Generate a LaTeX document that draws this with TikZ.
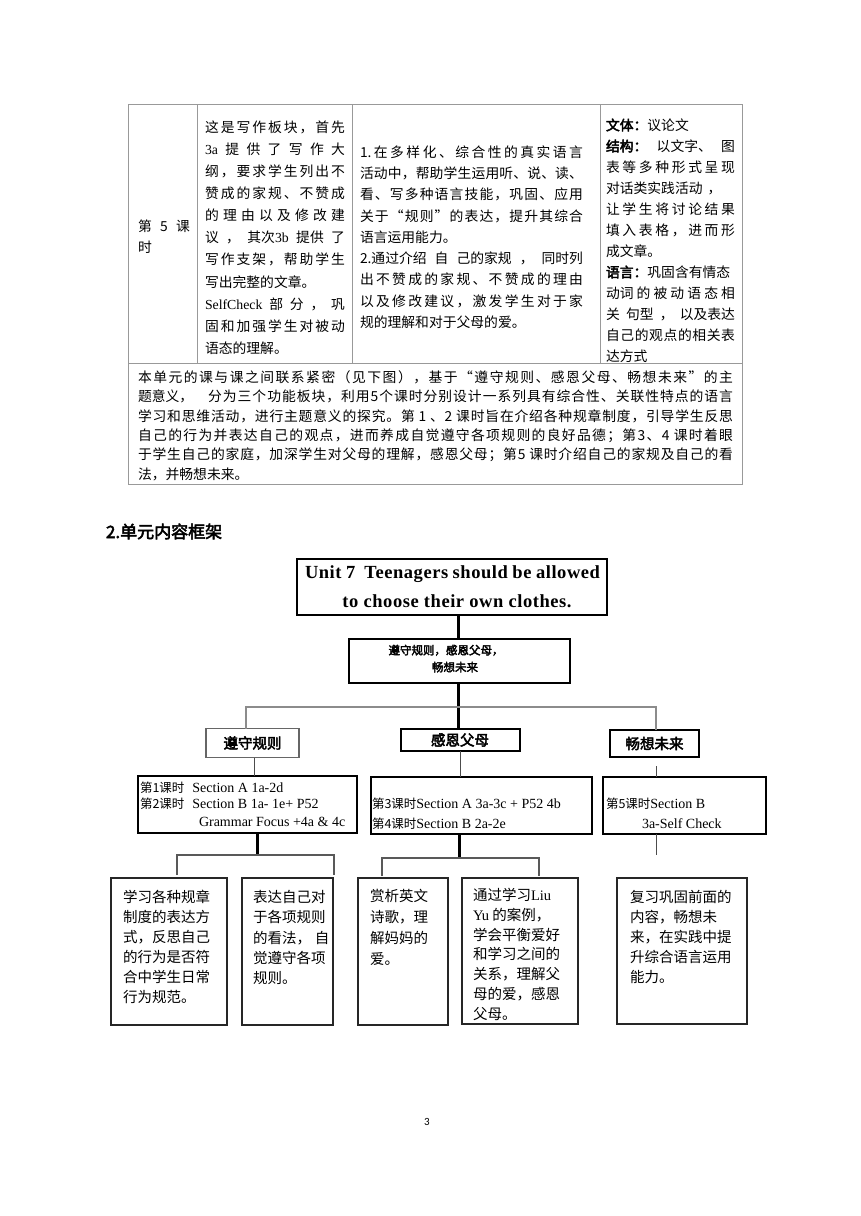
\documentclass[tikz,border=0pt]{standalone}
\usepackage{fontspec}
\setmainfont{Liberation Serif}
\newfontfamily\cjk{Noto Sans CJK SC}
\newfontfamily\cjkb[FakeBold=3]{Noto Sans CJK SC}
\newfontfamily\ttlfont[LetterSpace=3]{Liberation Serif}
\newfontfamily\pnfont{Carlito}
\def\sprx#1{\ifx\relax#1\else{#1}\expandafter\spry\fi}
\def\spry#1{\ifx\relax#1\else\hfil{#1}\expandafter\spry\fi}
\newcommand\jl[2]{\makebox[#1pt][s]{\sprx#2\relax}}
\newcommand\lat[1]{{\rmfamily #1}}
\newcommand\fsz[2]{\fontsize{#1}{#2}\selectfont}
\newcommand\ck[1]{{\fontsize{12.5}{16}\selectfont\cjk #1}}
\newcommand\txtblock[6]{\foreach \tx [count=\nn from 0] in {#6} {\node[tln,#2] (#1\nn) at (#3,{#4+\nn*#5}) {\tx};}}
\tikzset{
  tln/.style={anchor=base west, inner sep=0pt, outer sep=0pt},
  ftab/.style={font=\fsz{13.8}{16}\cjk},
  fbox/.style={font=\fsz{14.5}{17}\cjk},
  flat/.style={font=\fsz{14}{16}\rmfamily},
  tbl/.style={draw=black!40, line width=0.9pt},
  bx/.style={draw, rectangle, inner sep=0pt, outer sep=0pt},
  cthick/.style={draw=black, line width=3pt},
  cgray/.style={draw=black!45, line width=2pt},
  cdark/.style={draw=black!65, line width=1.8pt},
  cthin/.style={draw=black!70, line width=1pt}
}
\begin{document}
\begin{tikzpicture}[x=1pt,y=-1pt]
\fill[white] (0,0) rectangle (860,1216);
\useasboundingbox (0,0) rectangle (860,1216);
% ---------------- table ----------------
\draw[tbl] (128,104) rectangle (742,484);
\draw[tbl] (128,363) -- (742,363);
\foreach \xx in {197,352,600} \draw[tbl] (\xx,104) -- (\xx,363);
\node[tln,ftab] (c1a) at (138,231.3) {\jl{52}{第5课}};
\node[tln,ftab] (c1b) at (138,252.3) {时};
\txtblock{cb}{ftab}{205}{132.3}{22.1}{
 {\jl{140}{这是写作板块，首先}},
 {\jl{140}{{\lat{3a}}提供了写作大}},
 {\jl{140}{纲，要求学生列出不}},
 {\jl{140}{赞成的家规、不赞成}},
 {\jl{140}{的理由以及修改建}},
 {\jl{140}{议{，}{其次\lat{3b}}{提供}了}},
 {\jl{140}{写作支架，帮助学生}},
 写出完整的文章。,
 {\jl{140}{{\lat{SelfCheck}}部分，巩}},
 {\jl{140}{固和加强学生对被动}},
 语态的理解。}
\txtblock{cc}{ftab}{360}{157.3}{21.25}{
 {\jl{223}{{1.}在多样化、综合性的真实语言}},
 {\jl{223}{活动中，帮助学生运用听、说、读、}},
 {\jl{223}{看、写多种语言技能，巩固、应用}},
 {\jl{223}{关于“规则”的表达，提升其综合}},
 语言运用能力。,
 {\jl{223}{{2.通过介绍}{自}{己的家规}{，}{同时列}}},
 {\jl{223}{出不赞成的家规、不赞成的理由}},
 {\jl{223}{以及修改建议，激发学生对于家}},
 规的理解和对于父母的爱。}
\txtblock{cd}{ftab}{606}{130.3}{21}{
 {{\cjkb 文体：}议论文},
 {\jl{129}{{\cjkb 结构：}{以文字、}{图}}},
 {\jl{129}{表等多种形式呈现}},
 {对话类实践活动\hspace{5pt}，},
 {\jl{129}{让学生将讨论结果}},
 {\jl{129}{填入表格，进而形}},
 成文章。,
 {{\cjkb 语言：}巩固含有情态},
 {\jl{129}{{动词}的被动语态相}},
 {\jl{129}{关{句型}，{以及表达}}},
 {\jl{129}{自己的观点的相关表}},
 达方式}
\txtblock{ce}{ftab}{138}{382.3}{19.4}{
 {\jl{595}{本单元的课与课之间联系紧密（见下图），基于“遵守规则、感恩父母、畅想未来”的主}},
 {\jl{595}{{题意义，\hspace{14pt}}分为三个功能板块，利用{5}个课时分别设计一系列具有综合性、关联性特点的语言}},
 {\jl{595}{学习和思维活动，进行主题意义的探究。第{\hspace{3pt}1\hspace{3pt}}、{2\hspace{3pt}}课时旨在介绍各种规章制度，引导学生反思}},
 {\jl{595}{自己的行为并表达自己的观点，进而养成自觉遵守各项规则的良好品德；第{3}、{4\hspace{3pt}}课时着眼}},
 {\jl{595}{于学生自己的家庭，加深学生对父母的理解，感恩父母；第{5\hspace{3pt}}课时介绍自己的家规及自己的看}},
 法，并畅想未来。}
% ---------------- heading ----------------
\node[tln, font=\fsz{17}{17}\cjkb] (hd) at (106,538) {2.单元内容框架};
% ---------------- diagram ----------------
\node[bx, line width=2pt, minimum width=310pt, minimum height=56pt] (ttl) at (452,587) {};
\node[tln, font=\fsz{18.5}{20}\ttlfont\bfseries] (ttl1) at (305,578) {\makebox[295pt][s]{Unit 7\ \ Teenagers should be allowed}};
\node[anchor=base, inner sep=0pt, font=\fsz{18.5}{20}\ttlfont\bfseries] (ttl2) at (457,607) {to choose their own clothes.};
\node[bx, line width=2pt, minimum width=221pt, minimum height=44pt] (theme) at (459.5,661) {};
\node[anchor=base, inner sep=0pt, font=\fsz{11.5}{14}\cjkb] (theme1) at (446,654.5) {遵守规则，感恩父母，};
\node[anchor=base, inner sep=0pt, font=\fsz{11.5}{14}\cjkb] (theme2) at (455,671.5) {畅想未来};
\node[bx, draw=black!60, line width=1.6pt, minimum width=93pt, minimum height=29pt, font=\fsz{14.5}{14}\cjkb] (r1) at (252.5,743) {遵守规则};
\node[bx, line width=2pt, minimum width=119pt, minimum height=22pt, font=\fsz{14.5}{14}\cjkb] (r2) at (460,740) {感恩父母};
\node[bx, line width=2pt, minimum width=89pt, minimum height=27pt, font=\fsz{14.5}{14}\cjkb] (r3) at (654.5,743.5) {畅想未来};
\node[bx, line width=1.5pt, minimum width=219pt, minimum height=57pt] (la) at (247.5,804.5) {};
\node[bx, line width=1.5pt, minimum width=221pt, minimum height=57pt] (lb) at (481.5,805.5) {};
\node[bx, line width=1.5pt, minimum width=163pt, minimum height=57pt] (lc) at (684.5,805.5) {};
\node[tln,flat] (la1) at (140,792) {\ck{第1课时}\hspace{8pt}Section A 1a-2d};
\node[tln,flat] (la2) at (140,808) {\ck{第2课时}\hspace{8pt}Section B 1a- 1e+ P52};
\node[tln,flat] (la3) at (199,826) {Grammar Focus +4a \& 4c};
\node[tln,flat] (lb1) at (372,808) {\ck{第3课时}Section A 3a-3c + P52 4b};
\node[tln,flat] (lb2) at (372,828) {\ck{第4课时}Section B 2a-2e};
\node[tln,flat] (lc1) at (606,808) {\ck{第5课时}Section B};
\node[tln,flat] (lc2) at (642,828) {3a-Self Check};
\node[bx, draw=black!85, line width=1.4pt, minimum width=116pt, minimum height=147pt] (b1) at (169,951.5) {};
\node[bx, draw=black!85, line width=1.4pt, minimum width=91pt, minimum height=147pt] (b2) at (287.5,951.5) {};
\node[bx, draw=black!85, line width=1.4pt, minimum width=90pt, minimum height=147pt] (b3) at (403,951.5) {};
\node[bx, draw=black!85, line width=1.4pt, minimum width=116pt, minimum height=146pt] (b4) at (520,951) {};
\node[bx, draw=black!85, line width=1.4pt, minimum width=130pt, minimum height=146pt] (b5) at (682,951) {};
\txtblock{t1}{fbox}{123}{902.5}{20}{学习各种规章,制度的表达方,式，反思自己,的行为是否符,合中学生日常,行为规范。}
\txtblock{t2}{fbox}{253}{902.5}{20.3}{表达自己对,于各项规则,{的看法，\hspace{4pt}自},觉遵守各项,规则。}
\txtblock{t3}{fbox}{370}{901.5}{21}{赏析英文,诗歌，理,解妈妈的,爱。}
\txtblock{t4}{fbox}{473}{900.5}{19.8}{{通过学习\lat{Liu}},{\lat{Yu} 的案例，},学会平衡爱好,和学习之间的,关系，理解父,母的爱，感恩,父母。}
\txtblock{t5}{fbox}{630}{902.5}{20}{复习巩固前面的,内容，畅想未,来，在实践中提,升综合语言运用,能力。}
% connectors
\coordinate (cx) at (458,0);
\draw[cthick] (ttl.south -| cx) -- (theme.north -| cx);
\draw[cthick] (theme.south -| cx) -- (r2.north -| cx);
\coordinate (hl) at (246,707);
\coordinate (hr) at (656,707);
\draw[cgray] (r1.north -| hl) -- (hl) -- (hr) -- (r3.north -| hr);
\coordinate (xa) at (254,0);
\coordinate (xb) at (460,0);
\draw[cthin] (r1.south -| xa) -- (la.north -| xa);
\draw[cthin] (r2.south -| xb) -- (lb.north -| xb);
\coordinate (ct) at (656,766);
\draw[cthin] (ct) -- (lc.north -| ct);
\coordinate (cb) at (656,855);
\draw[cthin] (lc.south -| cb) -- (cb);
\coordinate (ha) at (257,855);
\coordinate (d1) at (177,875);
\coordinate (d2) at (334,855);
\coordinate (d2e) at (334,875);
\draw[cthick] (la.south -| ha) -- (ha);
\draw[cdark] (d1) |- (d2) -- (d2e);
\coordinate (hb) at (459,858);
\coordinate (e1) at (382,876);
\coordinate (e2) at (539,876);
\draw[cthick] (lb.south -| hb) -- (hb);
\draw[cdark] (e1) |- (hb) -| (e2);
\node[font=\fsz{11}{11}\pnfont] (pg) at (427,1122) {3};
\end{tikzpicture}
\end{document}
